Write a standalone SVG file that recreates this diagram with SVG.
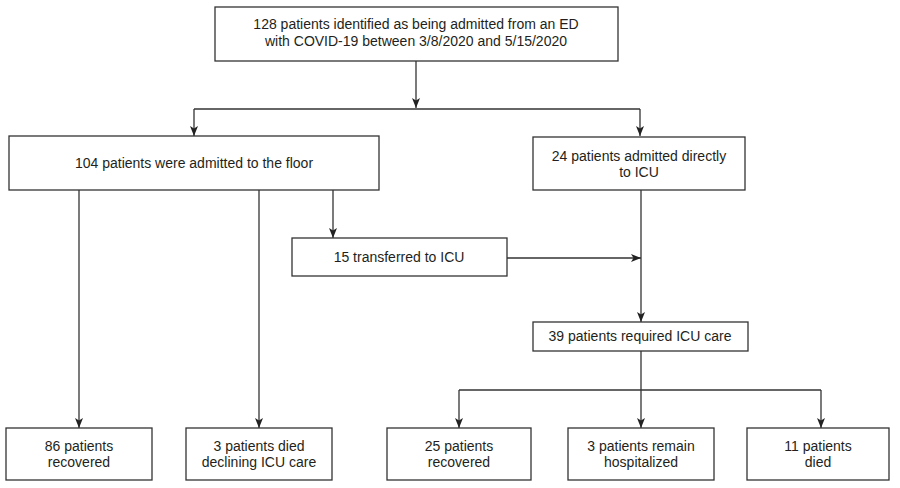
<svg xmlns="http://www.w3.org/2000/svg" width="900" height="488" viewBox="0 0 900 488">
<style>
.box{fill:#fff;stroke:#333;stroke-width:1.3}
.t{font-family:"Liberation Sans",Arial,sans-serif;font-size:14px;fill:#231f20;text-anchor:middle}
.c{fill:none;stroke:#333;stroke-width:1.3}
</style>
<defs>
<marker id="ah" viewBox="0 0 10 10" refX="10" refY="5" markerWidth="10" markerHeight="10" markerUnits="userSpaceOnUse" orient="auto">
<path d="M0,1 L10,5 L0,9 L2.5,5 Z" fill="#222"/>
</marker>
</defs>
<rect width="900" height="488" fill="#fff"/>
<g id="connectors">
<path class="c" d="M416,61 V108" marker-end="url(#ah)"/>
<path class="c" d="M194,109 H640"/>
<path class="c" d="M194,109 V136" marker-end="url(#ah)"/>
<path class="c" d="M640,109 V136" marker-end="url(#ah)"/>
<path class="c" d="M333,190 V238" marker-end="url(#ah)"/>
<path class="c" d="M79,190 V428" marker-end="url(#ah)"/>
<path class="c" d="M259,190 V428" marker-end="url(#ah)"/>
<path class="c" d="M507,258 H641" marker-end="url(#ah)"/>
<path class="c" d="M641,190 V322" marker-end="url(#ah)"/>
<path class="c" d="M641,351 V428" marker-end="url(#ah)"/>
<path class="c" d="M459,390 H821"/>
<path class="c" d="M459,390 V428" marker-end="url(#ah)"/>
<path class="c" d="M821,390 V428" marker-end="url(#ah)"/>
</g>
<g id="n-top">
<rect class="box" x="215" y="7" width="403" height="54"/>
<text class="t" x="416" y="29">128 patients identified as being admitted from an ED</text>
<text class="t" x="416" y="46">with COVID-19 between 3/8/2020 and 5/15/2020</text>
</g>
<g id="n-floor">
<rect class="box" x="9" y="136" width="370" height="54"/>
<text class="t" x="194" y="168">104 patients were admitted to the floor</text>
</g>
<g id="n-direct">
<rect class="box" x="533" y="137" width="212" height="53"/>
<text class="t" x="639" y="161">24 patients admitted directly</text>
<text class="t" x="639" y="177">to ICU</text>
</g>
<g id="n-transfer">
<rect class="box" x="292" y="238" width="215" height="38"/>
<text class="t" x="399" y="262">15 transferred to ICU</text>
</g>
<g id="n-icu">
<rect class="box" x="533" y="322" width="215" height="29"/>
<text class="t" x="640" y="341">39 patients required ICU care</text>
</g>
<g id="n-rec86">
<rect class="box" x="6" y="428" width="146" height="52"/>
<text class="t" x="79" y="451">86 patients</text>
<text class="t" x="79" y="467">recovered</text>
</g>
<g id="n-died3">
<rect class="box" x="186" y="428" width="146" height="52"/>
<text class="t" x="259" y="451">3 patients died</text>
<text class="t" x="259" y="467">declining ICU care</text>
</g>
<g id="n-rec25">
<rect class="box" x="387" y="428" width="144" height="52"/>
<text class="t" x="459" y="451">25 patients</text>
<text class="t" x="459" y="467">recovered</text>
</g>
<g id="n-hosp">
<rect class="box" x="568" y="428" width="146" height="52"/>
<text class="t" x="641" y="451">3 patients remain</text>
<text class="t" x="641" y="467">hospitalized</text>
</g>
<g id="n-died11">
<rect class="box" x="747" y="428" width="142" height="52"/>
<text class="t" x="818" y="451">11 patients</text>
<text class="t" x="818" y="467">died</text>
</g>
</svg>
